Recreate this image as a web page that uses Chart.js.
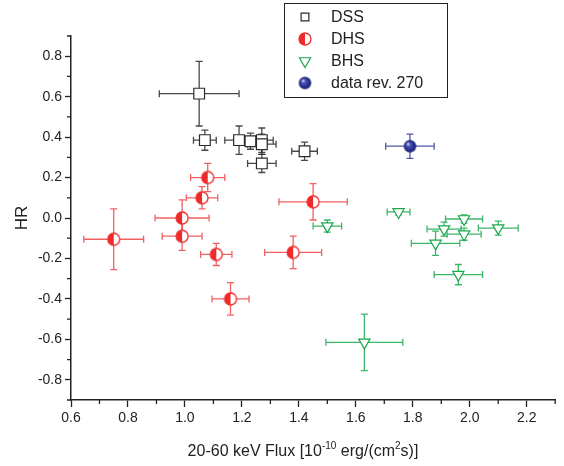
<!DOCTYPE html>
<html>
<head>
<meta charset="utf-8">
<script src="https://cdn.jsdelivr.net/npm/chart.js@4.4.1/dist/chart.umd.min.js"></script>
<style>
  html, body { margin: 0; padding: 0; background: #fff; }
</style>
</head>
<body>
<canvas id="hrChart" width="564" height="466"></canvas>
<script>
// values (flux, HR, and symmetric errors)
const dssX    = [1.05, 1.07, 1.19, 1.23, 1.27, 1.27, 1.27, 1.42];
const dssY    = [0.615, 0.385, 0.385, 0.38, 0.385, 0.365, 0.27, 0.33];
const dssXErr = [0.14, 0.04, 0.05, 0.02, 0.04, 0.05, 0.05, 0.045];
const dssYErr = [0.16, 0.05, 0.07, 0.04, 0.06, 0.05, 0.045, 0.045];

const dhsX    = [1.08, 1.06, 0.99, 0.99, 0.75, 1.11, 1.16, 1.38, 1.45];
const dhsY    = [0.2, 0.1, 0.0, -0.09, -0.105, -0.18, -0.4, -0.17, 0.08];
const dhsXErr = [0.06, 0.055, 0.095, 0.07, 0.105, 0.055, 0.065, 0.1, 0.12];
const dhsYErr = [0.07, 0.055, 0.09, 0.07, 0.15, 0.055, 0.08, 0.08, 0.09];

const bhsX    = [1.50, 1.75, 1.98, 1.91, 1.98, 2.10, 1.88, 1.96, 1.63];
const bhsY    = [-0.04, 0.03, -0.005, -0.055, -0.08, -0.05, -0.125, -0.28, -0.615];
const bhsXErr = [0.05, 0.04, 0.065, 0.06, 0.06, 0.07, 0.085, 0.085, 0.135];
const bhsYErr = [0.03, 0.015, 0.02, 0.035, 0.03, 0.035, 0.06, 0.05, 0.14];

const revX    = [1.79];
const revY    = [0.355];
const revXErr = [0.085];
const revYErr = [0.06];

const xTicks = [0.6, 0.8, 1.0, 1.2, 1.4, 1.6, 1.8, 2.0, 2.2];
const yTicks = [-0.8, -0.6, -0.4, -0.2, 0.0, 0.2, 0.4, 0.6, 0.8];
const xMinor = [0.7, 0.9, 1.1, 1.3, 1.5, 1.7, 1.9, 2.1, 2.3];
const yMinor = [-0.9, -0.7, -0.5, -0.3, -0.1, 0.1, 0.3, 0.5, 0.7, 0.9];

const FONT = '"Liberation Sans", Arial, Helvetica, sans-serif';

function toPoints(xs, ys, xe, ye) {
  return xs.map((x, i) => ({ x: x, y: ys[i], xErr: xe[i], yErr: ye[i] }));
}

// half filled circle marker
function halfCircle(r, color) {
  const c = document.createElement('canvas');
  const s = Math.ceil(2 * r + 4);
  c.width = s; c.height = s;
  const g = c.getContext('2d');
  const m = s / 2;
  g.fillStyle = '#fff';
  g.beginPath(); g.arc(m, m, r, 0, 2 * Math.PI); g.fill();
  g.fillStyle = color;
  g.beginPath(); g.arc(m, m, r, Math.PI / 2, 3 * Math.PI / 2); g.closePath(); g.fill();
  g.strokeStyle = color; g.lineWidth = 1.3;
  g.beginPath(); g.arc(m, m, r, 0, 2 * Math.PI); g.stroke();
  return c;
}

// shaded blue ball
function sphere(r) {
  const c = document.createElement('canvas');
  const s = Math.ceil(2 * r + 2);
  c.width = s; c.height = s;
  const g = c.getContext('2d');
  const m = s / 2;
  const grad = g.createRadialGradient(m - r * 0.35, m - r * 0.4, r * 0.05, m, m, r);
  grad.addColorStop(0, '#dfe2ff');
  grad.addColorStop(0.3, '#4850b4');
  grad.addColorStop(0.8, '#232a86');
  grad.addColorStop(1, '#161b63');
  g.fillStyle = grad;
  g.beginPath(); g.arc(m, m, r, 0, 2 * Math.PI); g.fill();
  return c;
}

const RED = '#ee2b2b';
const GREEN = '#19a84e';
const BLACK = '#2a2a2a';
const BLUE = '#262d8c';

const redMark = halfCircle(6, RED);
const blueMark = sphere(6.2);

// error bars drawn through the chart's own scales
const errorBars = {
  id: 'errorBars',
  beforeDatasetsDraw(chart) {
    const ctx = chart.ctx;
    const xs = chart.scales.x, ys = chart.scales.y;
    const cap = 3.5;
    chart.data.datasets.forEach(ds => {
      ctx.save();
      ctx.strokeStyle = ds.errColor;
      ctx.lineWidth = 1.3;
      ds.data.forEach(p => {
        const px = xs.getPixelForValue(p.x), py = ys.getPixelForValue(p.y);
        const x0 = xs.getPixelForValue(p.x - p.xErr), x1 = xs.getPixelForValue(p.x + p.xErr);
        const y0 = ys.getPixelForValue(p.y - p.yErr), y1 = ys.getPixelForValue(p.y + p.yErr);
        ctx.beginPath();
        ctx.moveTo(x0, py); ctx.lineTo(x1, py);
        ctx.moveTo(px, y0); ctx.lineTo(px, y1);
        ctx.moveTo(x0, py - cap); ctx.lineTo(x0, py + cap);
        ctx.moveTo(x1, py - cap); ctx.lineTo(x1, py + cap);
        ctx.moveTo(px - cap, y0); ctx.lineTo(px + cap, y0);
        ctx.moveTo(px - cap, y1); ctx.lineTo(px + cap, y1);
        ctx.stroke();
      });
      ctx.restore();
    });
  }
};

// minor ticks, axis titles and the boxed legend
const decorations = {
  id: 'decorations',
  afterDraw(chart) {
    const ctx = chart.ctx;
    const xs = chart.scales.x, ys = chart.scales.y;
    const area = chart.chartArea;
    ctx.save();
    ctx.strokeStyle = '#222';
    ctx.lineWidth = 1.3;
    ctx.beginPath();
    xMinor.forEach(v => {
      const p = xs.getPixelForValue(v);
      ctx.moveTo(p, area.bottom); ctx.lineTo(p, area.bottom + 4);
    });
    yMinor.forEach(v => {
      const p = ys.getPixelForValue(v);
      ctx.moveTo(area.left - 4, p); ctx.lineTo(area.left, p);
    });
    ctx.stroke();

    // x title with superscripts
    ctx.fillStyle = '#222';
    ctx.textBaseline = 'alphabetic';
    const parts = [
      ['20-60 keV Flux [10', false], ['-10', true], [' erg/(cm', false], ['2', true], ['s)]', false]
    ];
    const big = '16px ' + FONT, small = '10px ' + FONT;
    let total = 0;
    parts.forEach(p => { ctx.font = p[1] ? small : big; total += ctx.measureText(p[0]).width; });
    let tx = area.left + 232 - total / 2;
    const base = 456;
    parts.forEach(p => {
      ctx.font = p[1] ? small : big;
      ctx.fillText(p[0], tx, p[1] ? base - 7 : base);
      tx += ctx.measureText(p[0]).width;
    });

    // y title
    ctx.save();
    ctx.translate(22, ys.getPixelForValue(0));
    ctx.rotate(-Math.PI / 2);
    ctx.font = '17px ' + FONT;
    ctx.textAlign = 'center';
    ctx.textBaseline = 'middle';
    ctx.fillText('HR', 0, 0);
    ctx.restore();

    // legend box
    const bx = 284, by = 3, bw = 163, bh = 94;
    ctx.fillStyle = '#fff';
    ctx.fillRect(bx, by, bw, bh);
    ctx.strokeStyle = '#222';
    ctx.lineWidth = 1;
    ctx.strokeRect(bx + 0.5, by + 0.5, bw, bh);
    const rows = [17, 39, 61, 83];
    ctx.font = '16px ' + FONT;
    ctx.textBaseline = 'middle';
    ctx.textAlign = 'left';
    chart.data.datasets.forEach((ds, i) => {
      const mx = 305, my = rows[i];
      ctx.fillStyle = ds.backgroundColor;
      ctx.strokeStyle = ds.borderColor;
      ctx.lineWidth = 1.2;
      const radius = ds.pointStyle === 'rect' ? 5.5 : 6.5;
      Chart.helpers.drawPoint(ctx, {
        pointStyle: ds.pointStyle, rotation: ds.pointRotation || 0,
        radius: radius, borderWidth: 1.2
      }, mx, my);
      ctx.fillStyle = '#222';
      ctx.fillText(ds.label, 331, my + 1);
    });
    ctx.restore();
  }
};

const tickFont = { family: FONT, size: 14 };

new Chart(document.getElementById('hrChart'), {
  type: 'scatter',
  data: {
    datasets: [
      {
        label: 'DSS',
        data: toPoints(dssX, dssY, dssXErr, dssYErr),
        pointStyle: 'rect', pointRadius: 7.6, borderWidth: 1.2,
        borderColor: BLACK, backgroundColor: '#fff', errColor: 'rgba(40,40,40,0.85)'
      },
      {
        label: 'DHS',
        data: toPoints(dhsX, dhsY, dhsXErr, dhsYErr),
        pointStyle: redMark, pointRadius: 6,
        borderColor: RED, backgroundColor: RED, errColor: 'rgba(238,43,43,0.75)'
      },
      {
        label: 'BHS',
        data: toPoints(bhsX, bhsY, bhsXErr, bhsYErr),
        pointStyle: 'triangle', pointRotation: 180, pointRadius: 6.5, borderWidth: 1.2,
        borderColor: GREEN, backgroundColor: '#fff', errColor: 'rgba(25,168,78,0.85)'
      },
      {
        label: 'data rev. 270',
        data: toPoints(revX, revY, revXErr, revYErr),
        pointStyle: blueMark, pointRadius: 6,
        borderColor: BLUE, backgroundColor: BLUE, errColor: 'rgba(38,45,140,0.8)'
      }
    ]
  },
  options: {
    responsive: false,
    animation: false,
    events: [],
    devicePixelRatio: 1,
    layout: { padding: { top: 36, right: 0, left: 0, bottom: 0 } },
    plugins: { legend: { display: false }, tooltip: { enabled: false } },
    scales: {
      x: {
        type: 'linear', min: 0.6, max: 2.3,
        afterFit: s => { s.height = 66; },
        afterBuildTicks: s => { s.ticks = xTicks.map(v => ({ value: v })); },
        border: { color: '#222', width: 1.5 },
        grid: { drawOnChartArea: false, tickLength: 7, tickColor: '#222', tickWidth: 1.3 },
        ticks: { font: tickFont, color: '#222', padding: 3, maxRotation: 0,
                 callback: v => v.toFixed(1) }
      },
      y: {
        type: 'linear', min: -0.9, max: 0.9,
        afterFit: s => { s.width = 71; },
        afterBuildTicks: s => { s.ticks = yTicks.map(v => ({ value: v })); },
        border: { color: '#222', width: 1.5 },
        grid: { drawOnChartArea: false, tickLength: 6, tickColor: '#222', tickWidth: 1.3 },
        ticks: { font: tickFont, color: '#222', padding: 3,
                 callback: v => v.toFixed(1) }
      }
    }
  },
  plugins: [errorBars, decorations]
});
</script>
</body>
</html>
